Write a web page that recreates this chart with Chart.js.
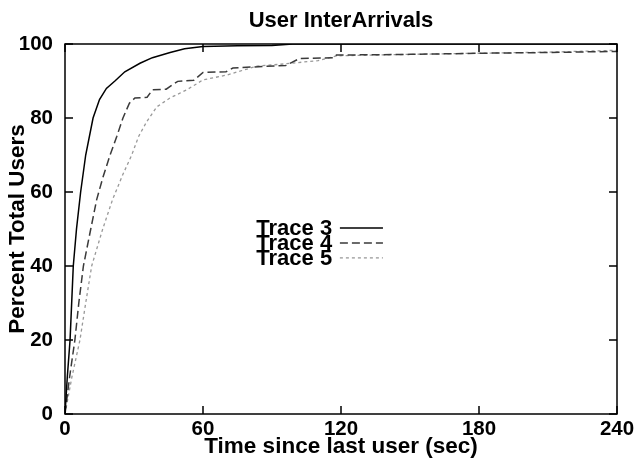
<!DOCTYPE html>
<html lang="en">
<head>
    <meta charset="UTF-8">
    <title>User InterArrivals</title>
    <script src="https://cdn.jsdelivr.net/npm/chart.js"></script>
    <style>
        body { margin: 0; background: #fff; }
        #wrap { width: 637px; height: 462px; }
    </style>
</head>
<body>
    <div id="wrap"><canvas id="chart" width="637" height="462"></canvas></div>

    <script>
        // values (time in seconds, percent of users)
        const trace3Time = [0, 1, 2.2, 3.6, 5, 6.8, 9, 12.2, 15, 18, 21.7, 26, 32.6, 38, 45.7, 52, 60, 75, 90, 99, 120, 180, 240];
        const trace3Pct  = [0, 10, 20, 40, 50, 60, 70, 80, 85, 88, 90, 92.5, 94.8, 96.3, 97.7, 98.7, 99.3, 99.5, 99.6, 100, 100, 100, 100];

        const trace4Time = [0, 2, 4.3, 6, 8, 11.2, 13.8, 16.5, 19.6, 22.5, 25.2, 28, 30.4, 35.7, 38, 44, 49, 56, 60, 70, 73, 82, 96, 102, 117, 118, 150, 180, 210, 240];
        const trace4Pct  = [0, 10, 20, 30, 40, 50, 58, 64, 70, 75, 80, 84, 85.4, 85.6, 87.6, 87.8, 89.9, 90.2, 92.3, 92.5, 93.5, 93.8, 94.2, 96.1, 96.3, 97, 97.2, 97.5, 97.7, 98];

        const trace5Time = [0, 3, 6.5, 9, 11.6, 16.4, 20.7, 25, 29, 32, 35.5, 39.9, 45.6, 52.9, 60, 70.3, 83.3, 95, 110, 118, 150, 180, 210, 240];
        const trace5Pct  = [0, 10, 20, 30, 40, 50, 58, 64.5, 70, 75, 79, 83, 85.4, 87.6, 90.3, 91.6, 94, 94.6, 95.5, 96.8, 97.2, 97.5, 97.8, 98.3];

        const traceNames = ['Trace 3', 'Trace 4', 'Trace 5'];
        const xTicks = [0, 60, 120, 180, 240];
        const yTicks = [0, 20, 40, 60, 80, 100];

        const FONT = 'Liberation Sans, Arial, Helvetica, sans-serif';
        const pts = (xs, ys) => xs.map((x, i) => ({ x: x, y: ys[i] }));

        // frame with inward tick marks on all four sides
        const frameTicks = {
            id: 'frameTicks',
            afterDatasetsDraw(chart) {
                const { ctx, chartArea: a, scales } = chart;
                const len = 8;
                ctx.save();
                ctx.strokeStyle = '#000';
                ctx.lineWidth = 1.5;
                ctx.strokeRect(a.left, a.top, a.right - a.left, a.bottom - a.top);
                ctx.beginPath();
                xTicks.forEach(v => {
                    const px = scales.x.getPixelForValue(v);
                    ctx.moveTo(px, a.bottom); ctx.lineTo(px, a.bottom - len);
                    ctx.moveTo(px, a.top); ctx.lineTo(px, a.top + len);
                });
                yTicks.forEach(v => {
                    const py = scales.y.getPixelForValue(v);
                    ctx.moveTo(a.left, py); ctx.lineTo(a.left + len, py);
                    ctx.moveTo(a.right, py); ctx.lineTo(a.right - len, py);
                });
                ctx.stroke();
                ctx.restore();
            }
        };

        // legend inside the plot: label on the left, line sample on the right
        const innerLegend = {
            id: 'innerLegend',
            afterDraw(chart) {
                const { ctx, chartArea: a } = chart;
                const w = a.right - a.left, h = a.bottom - a.top;
                const textRight = a.left + w * 0.484;
                const lineL = a.left + w * 0.498, lineR = a.left + w * 0.576;
                ctx.save();
                ctx.font = 'bold 22px ' + FONT;
                ctx.textAlign = 'right';
                ctx.textBaseline = 'middle';
                chart.data.datasets.forEach((ds, i) => {
                    const y = a.top + h * 0.497 + i * 15;
                    ctx.fillStyle = '#000';
                    ctx.fillText(ds.label, textRight, y + 1);
                    ctx.strokeStyle = ds.borderColor;
                    ctx.lineWidth = ds.borderWidth;
                    ctx.setLineDash(ds.borderDash || []);
                    ctx.beginPath();
                    ctx.moveTo(lineL, y);
                    ctx.lineTo(lineR, y);
                    ctx.stroke();
                });
                ctx.restore();
            }
        };

        new Chart(document.getElementById('chart'), {
            type: 'line',
            data: {
                datasets: [
                    { label: traceNames[0], data: pts(trace3Time, trace3Pct), borderColor: '#000', borderWidth: 1.5, borderDash: [] },
                    { label: traceNames[1], data: pts(trace4Time, trace4Pct), borderColor: '#3a3a3a', borderWidth: 1.5, borderDash: [8, 4] },
                    { label: traceNames[2], data: pts(trace5Time, trace5Pct), borderColor: '#999', borderWidth: 1.3, borderDash: [3, 3] }
                ]
            },
            options: {
                responsive: false,
                animation: false,
                layout: { padding: { right: 20 } },
                elements: { point: { radius: 0 }, line: { tension: 0, fill: false } },
                plugins: { legend: { display: false }, tooltip: { enabled: false }, title: { display: false } },
                scales: {
                    x: {
                        type: 'linear', min: 0, max: 240,
                        afterBuildTicks: s => { s.ticks = xTicks.map(v => ({ value: v })); },
                        grid: { display: false, drawTicks: false },
                        border: { display: false },
                        ticks: { color: '#000', padding: 3, maxRotation: 0, font: { family: FONT, size: 20.5, weight: 'bold' } },
                        title: { display: true, text: 'Time since last user (sec)', color: '#000', padding: { top: 0, bottom: 1.5 }, font: { family: FONT, size: 22.5, weight: 'bold' } },
                        afterFit: s => { s.height = 48; s.paddingLeft = 0; s.paddingRight = 0; }
                    },
                    top: {
                        type: 'linear', position: 'top', min: 0, max: 240,
                        grid: { display: false, drawTicks: false },
                        border: { display: false },
                        ticks: { display: false },
                        title: { display: true, text: 'User InterArrivals', color: '#000', padding: { top: 8, bottom: 0 }, font: { family: FONT, size: 22, weight: 'bold' } },
                        afterFit: s => { s.height = 44; }
                    },
                    y: {
                        type: 'linear', min: 0, max: 100,
                        afterBuildTicks: s => { s.ticks = yTicks.map(v => ({ value: v })); },
                        grid: { display: false, drawTicks: false },
                        border: { display: false },
                        ticks: { color: '#000', padding: 12, font: { family: FONT, size: 20.5, weight: 'bold' } },
                        title: { display: true, text: 'Percent Total Users', color: '#000', padding: { top: 4, bottom: 0 }, font: { family: FONT, size: 22.5, weight: 'bold' } },
                        afterFit: s => { s.width = 65; }
                    }
                }
            },
            plugins: [frameTicks, innerLegend]
        });
    </script>
</body>
</html>
